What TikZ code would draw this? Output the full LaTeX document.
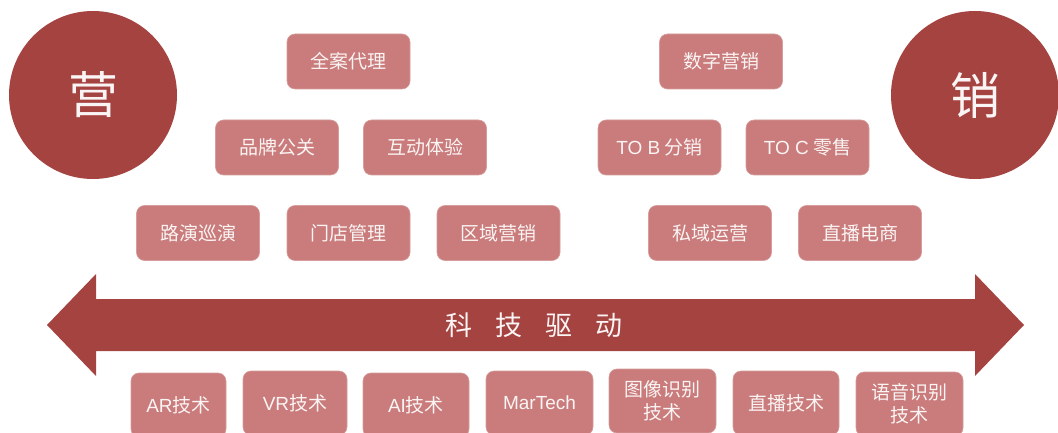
\documentclass[tikz,border=0pt]{standalone}
\usepackage{fontspec}
\setmainfont{Liberation Sans}
\newfontfamily\cjk{Noto Sans CJK SC}
\definecolor{darkred}{HTML}{A54341}
\definecolor{boxc}{HTML}{C97C7B}
\definecolor{txtc}{HTML}{FBF4F4}
\newcommand{\lat}[1]{{\rmfamily\fontsize{19}{22}\selectfont #1}}
\begin{document}
\begin{tikzpicture}[x=1pt,y=-1pt,
  tagbox/.style={fill=boxc, draw=boxc!75!white, line width=0.6pt, rounded corners=8pt,
    minimum width=123pt, minimum height=55pt, text=txtc, inner sep=0pt, align=center,
    font=\cjk\fontsize{19}{23}\selectfont},
  techbox/.style={tagbox, minimum height=64pt},
  bigcirc/.style={circle, fill=darkred, minimum size=168pt, inner sep=0pt, text=txtc,
    font=\cjk\fontsize{50}{50}\selectfont},
  arrowtext/.style={text=txtc, font=\cjk\fontsize{27}{27}\selectfont, inner sep=0pt}]
\useasboundingbox (0,0) rectangle (1058,433);
\clip (0,0) rectangle (1058,433);
% circles
\node[bigcirc] (ying) at (93,95) {营};
\node[bigcirc] (xiao) at (975,95) {销};
% left boxes
\node[tagbox] (b1) at (348.5,61.5) {全案代理};
\node[tagbox] (b2) at (277,147.5) {品牌公关};
\node[tagbox] (b3) at (425,147.5) {互动体验};
\node[tagbox] (b4) at (198,233) {路演巡演};
\node[tagbox] (b5) at (348.5,233) {门店管理};
\node[tagbox] (b6) at (498.5,233) {区域营销};
% right boxes
\node[tagbox] (c1) at (721,61.5) {数字营销};
\node[tagbox] (c2) at (659.5,147.5) {\lat{TO B} 分销};
\node[tagbox] (c3) at (807.5,147.5) {\lat{TO C} 零售};
\node[tagbox] (c4) at (710,233) {私域运营};
\node[tagbox] (c5) at (860,233) {直播电商};
% double arrow
\fill[darkred] (47,325) -- (96,274) -- (96,299) -- (975,299) -- (975,274) -- (1024,325)
  -- (975,376) -- (975,351) -- (96,351) -- (96,376) -- cycle;
\node[arrowtext] (kj) at (534,325) {科\hspace{23pt}技\hspace{23pt}驱\hspace{23pt}动};
% tech boxes
\node[techbox, minimum width=95pt] (t1) at (178.5,405) {\lat{AR}技术};
\node[techbox, minimum width=104pt] (t2) at (295,403) {\lat{VR}技术};
\node[techbox, minimum width=106pt] (t3) at (416,405) {\lat{AI}技术};
\node[techbox, minimum width=107pt] (t4) at (539.5,403) {\lat{MarTech}};
\node[techbox, minimum width=107pt] (t5) at (662.5,401) {图像识别\\技术};
\node[techbox, minimum width=106pt] (t6) at (786,403) {直播技术};
\node[techbox, minimum width=107pt] (t7) at (909.5,404) {语音识别\\技术};
\end{tikzpicture}
\end{document}
